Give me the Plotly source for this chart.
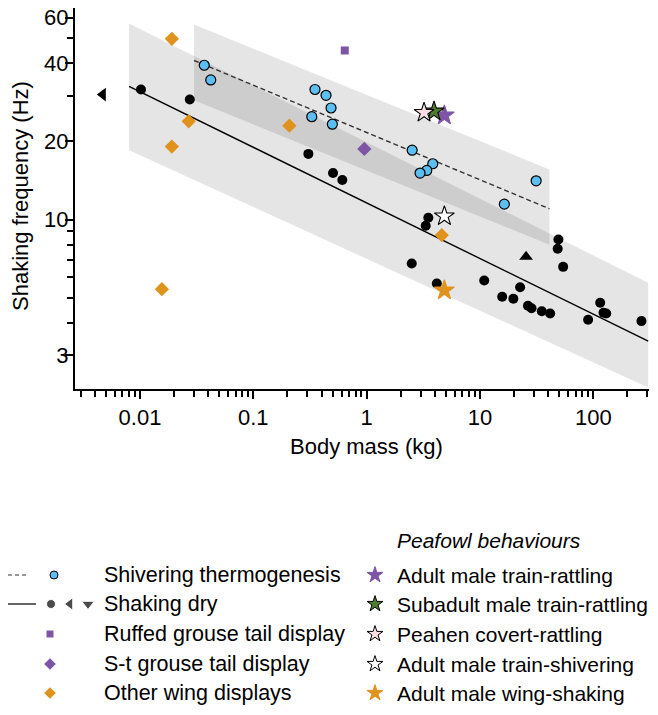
import plotly.graph_objects as go

# ---- data (body mass in kg, shaking frequency in Hz) ----
dry_mass = [0.0102, 0.0275, 0.306, 0.505, 0.610, 3.50, 3.32, 49.2, 48.5, 54.2,
            2.50, 4.16, 10.9, 22.6, 15.7, 19.7, 26.5, 28.5, 35.1, 41.6,
            90.0, 115, 123, 130, 266]
dry_freq = [31.7, 29.0, 17.9, 15.1, 14.2, 10.15, 9.46, 8.38, 7.71, 6.57,
            6.77, 5.67, 5.82, 5.48, 5.04, 4.95, 4.65, 4.55, 4.43, 4.34,
            4.11, 4.78, 4.37, 4.34, 4.06]
dry_left_mass = [0.0047]
dry_left_freq = [30.3]
dry_up_mass = [25.5]
dry_up_freq = [7.18]

shiver_mass = [0.0369, 0.0421, 0.350, 0.438, 0.485, 0.328, 0.498, 2.52, 3.83,
               3.39, 2.96, 31.3, 16.4]
shiver_freq = [39.3, 34.5, 31.7, 30.1, 26.9, 24.9, 23.3, 18.5, 16.4,
               15.45, 15.1, 14.1, 11.46]

wing_mass = [0.0191, 0.0269, 0.0191, 0.0156, 0.208, 4.60]
wing_freq = [49.7, 23.9, 19.1, 5.39, 23.0, 8.70]

ruffed_mass = [0.641]
ruffed_freq = [44.8]
stgrouse_mass = [0.954]
stgrouse_freq = [18.7]

peafowl_labels = ["Adult male train-rattling", "Subadult male train-rattling",
                  "Peahen covert-rattling", "Adult male train-shivering",
                  "Adult male wing-shaking"]
peafowl_mass = [4.85, 3.93, 3.21, 4.85, 4.85]
peafowl_freq = [25.2, 26.1, 25.8, 10.3, 5.34]

# fitted lines and prediction bands
dry_fit_mass = [0.008, 305]
dry_fit_freq = [32.6, 3.40]
shiver_fit_mass = [0.03, 41]
shiver_fit_freq = [41.0, 11.0]
dry_band_mass = [0.008, 305, 305, 0.008]
dry_band_freq = [56.9, 5.70, 2.25, 18.5]
shiver_band_mass = [0.03, 41, 41, 0.03]
shiver_band_freq = [56.4, 15.6, 8.0, 28.8]

x_ticks = [0.01, 0.1, 1, 10, 100]
x_ticktext = ["0.01", "0.1", "1", "10", "100"]
y_ticks = [3, 10, 20, 40, 60]
y_ticktext = ["3", "10", "20", "40", "60"]

left_labels = ["Shivering thermogenesis", "Shaking dry", "Ruffed grouse tail display",
               "S-t grouse tail display", "Other wing displays"]

# ---- styling ----
FONT = "Liberation Sans, Arial, Helvetica, sans-serif"
FS = 22
FS_LEG = 21.5
FS_LEG_R = 21
BLUE = "#5cbff2"
ORANGE = "#e0931c"
PURPLE = "#7d55a4"
GREEN = "#4b7b2b"
PINK = "#fbdde4"
peafowl_fill = [PURPLE, GREEN, PINK, "white", ORANGE]
peafowl_line = [PURPLE, "black", "black", "black", ORANGE]

# the page puts the figure 8px in from the window corner
OFF = 8
W, H = 658 - OFF, 715 - OFF


def px(sx):
    return (sx - OFF) / W


def py(sy):
    return 1 - (sy - OFF) / H


fig = go.Figure()

# bands
for bx, by in [(dry_band_mass, dry_band_freq), (shiver_band_mass, shiver_band_freq)]:
    fig.add_trace(go.Scatter(x=bx, y=by, mode="lines", fill="toself",
                             fillcolor="rgba(0,0,0,0.10)", line=dict(width=0),
                             hoverinfo="skip"))

# fit lines
fig.add_trace(go.Scatter(x=dry_fit_mass, y=dry_fit_freq, mode="lines",
                         line=dict(color="black", width=1.4)))
fig.add_trace(go.Scatter(x=shiver_fit_mass, y=shiver_fit_freq, mode="lines",
                         line=dict(color="#333333", width=1.4, dash="5px,3px")))

# points
fig.add_trace(go.Scatter(x=wing_mass, y=wing_freq, mode="markers",
                         marker=dict(symbol="diamond", size=11, color=ORANGE)))
fig.add_trace(go.Scatter(x=ruffed_mass, y=ruffed_freq, mode="markers",
                         marker=dict(symbol="square", size=8, color=PURPLE)))
fig.add_trace(go.Scatter(x=stgrouse_mass, y=stgrouse_freq, mode="markers",
                         marker=dict(symbol="diamond", size=11, color=PURPLE)))
fig.add_trace(go.Scatter(x=dry_mass, y=dry_freq, mode="markers",
                         marker=dict(symbol="circle", size=10, color="black")))
fig.add_trace(go.Scatter(x=dry_left_mass, y=dry_left_freq, mode="markers",
                         marker=dict(symbol="triangle-left", size=12, color="black")))
fig.add_trace(go.Scatter(x=dry_up_mass, y=dry_up_freq, mode="markers",
                         marker=dict(symbol="triangle-up", size=12, color="black")))
fig.add_trace(go.Scatter(x=shiver_mass, y=shiver_freq, mode="markers",
                         marker=dict(symbol="circle", size=10, color=BLUE,
                                     line=dict(color="black", width=1.2))))
fig.add_trace(go.Scatter(x=peafowl_mass, y=peafowl_freq, mode="markers",
                         marker=dict(symbol="star", size=15, color=peafowl_fill,
                                     line=dict(color=peafowl_line, width=1.1))))

# ---- custom legend (window-pixel coordinates on a hidden axis pair) ----
rows = [575, 604, 634, 664, 693]
LX = dict(xaxis="x2", yaxis="y2", hoverinfo="skip", cliponaxis=False)
fig.add_trace(go.Scatter(x=[OFF, 28], y=[rows[0]] * 2, mode="lines",
                         line=dict(color="#333333", width=1.2, dash="4px,3px"), **LX))
fig.add_trace(go.Scatter(x=[OFF, 36], y=[rows[1]] * 2, mode="lines",
                         line=dict(color="black", width=1.2), **LX))
fig.add_trace(go.Scatter(x=[54], y=[rows[0]], mode="markers",
                         marker=dict(symbol="circle", size=8, color=BLUE,
                                     line=dict(color="black", width=1)), **LX))
fig.add_trace(go.Scatter(x=[51, 70, 88], y=[rows[1]] * 3, mode="markers",
                         marker=dict(symbol=["circle", "triangle-left", "triangle-down"],
                                     size=[9, 11, 11], color="black"), **LX))
fig.add_trace(go.Scatter(x=[50], y=[rows[2]], mode="markers",
                         marker=dict(symbol="square", size=7, color=PURPLE), **LX))
fig.add_trace(go.Scatter(x=[50, 50], y=[rows[3], rows[4]], mode="markers",
                         marker=dict(symbol="diamond", size=9, color=[PURPLE, ORANGE]), **LX))
fig.add_trace(go.Scatter(x=[375] * 5, y=rows, mode="markers",
                         marker=dict(symbol="star", size=12, color=peafowl_fill,
                                     line=dict(color=peafowl_line, width=1)), **LX))

annotations = []
for lab, r in zip(left_labels, rows):
    annotations.append(dict(x=px(102), y=py(r), text=lab, xanchor="left", yanchor="middle",
                            font=dict(family=FONT, size=FS_LEG, color="black")))
for lab, r in zip(peafowl_labels, rows):
    annotations.append(dict(x=px(395), y=py(r), text=lab, xanchor="left", yanchor="middle",
                            font=dict(family=FONT, size=FS_LEG_R, color="black")))
annotations.append(dict(x=px(395), y=py(540), text="<i>Peafowl behaviours</i>",
                        xanchor="left", yanchor="middle",
                        font=dict(family=FONT, size=FS_LEG_R, color="black")))
annotations.append(dict(x=px(366), y=py(446), text="Body mass (kg)",
                        xanchor="center", yanchor="middle",
                        font=dict(family=FONT, size=FS, color="black")))
annotations.append(dict(x=px(20), y=py(196), text="Shaking frequency (Hz)", textangle=-90,
                        xanchor="center", yanchor="middle",
                        font=dict(family=FONT, size=FS, color="black")))
for a in annotations:
    a.update(xref="paper", yref="paper", showarrow=False)

axis_common = dict(type="log", showline=True, linecolor="black", linewidth=2,
                   ticks="outside", ticklen=8, tickwidth=2, tickcolor="black",
                   showgrid=False, zeroline=False, automargin=False,
                   ticklabeloverflow="allow",
                   tickfont=dict(family=FONT, size=FS, color="black"))

# y range: 10 Hz at window y 219.5, 259.5 px per decade, axis bottom at 389
y_top = 1 + (219.5 - OFF) / 259.5
y_bot = 1 - (389 - 219.5) / 259.5

fig.update_layout(
    width=W, height=H,
    margin=dict(l=0, r=0, t=0, b=0),
    paper_bgcolor="white", plot_bgcolor="white",
    showlegend=False,
    font=dict(family=FONT, color="black"),
    xaxis=dict(domain=[px(75), px(649)], anchor="y", range=[-2.5735, 2.4914],
               tickvals=x_ticks, ticktext=x_ticktext,
               minor=dict(tickmode="array",
                          tickvals=[m * d for d in [0.001, 0.01, 0.1, 1, 10, 100]
                                    for m in range(2, 10)],
                          ticks="outside", ticklen=6, tickwidth=1.5,
                          tickcolor="black", showgrid=False),
               **axis_common),
    yaxis=dict(domain=[py(389), 1], anchor="x", range=[y_bot, y_top],
               tickvals=y_ticks, ticktext=y_ticktext, ticklabelstandoff=-8,
               minor=dict(tickmode="array", tickvals=[4, 5, 6, 7, 8, 9, 30, 50],
                          ticks="outside", ticklen=6, tickwidth=1.5,
                          tickcolor="black", showgrid=False),
               **axis_common),
    xaxis2=dict(domain=[0, 1], anchor="y2", range=[OFF, 658], visible=False,
                fixedrange=True),
    yaxis2=dict(domain=[0, py(400)], anchor="x2", range=[715, 400], visible=False,
                fixedrange=True),
    annotations=annotations,
)

fig.write_html("out.html")
